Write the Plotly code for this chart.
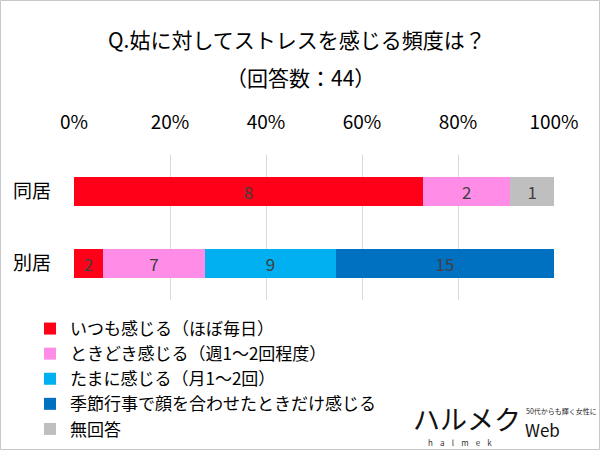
import plotly.graph_objects as go

categories = ["同居", "別居"]
series_names = [
    "いつも感じる（ほぼ毎日）",
    "ときどき感じる（週1～2回程度）",
    "たまに感じる（月1～2回）",
    "季節行事で顔を合わせたときだけ感じる",
    "無回答",
]
series_values = [
    [8, 2],
    [2, 7],
    [0, 9],
    [0, 15],
    [1, 0],
]
series_colors = ["#FF0018", "#FF8CE6", "#00B0F0", "#0070C0", "#BFBFBF"]
tick_values = [0, 20, 40, 60, 80, 100]
tick_labels = ["0%", "20%", "40%", "60%", "80%", "100%"]

FONT = "Noto Sans CJK JP"
W, H = 600, 450
L, R, T, B = 74, 46, 155, 150

fig = go.Figure()
for i, (name, vals, col) in enumerate(zip(series_names, series_values, series_colors)):
    fig.add_trace(go.Bar(
        y=categories, x=vals, name=name, orientation="h",
        marker=dict(color=col, line=dict(width=0)),
        text=[str(v) if v else "" for v in vals],
        textposition="inside", insidetextanchor="middle", textangle=0,
        textfont=dict(family=FONT, size=17, color="#404040"),
        legendgroup=f"g{i}",
    ))

pw = W - L - R
ph = H - T - B

def px(x):
    return (x - L) / pw

def py(y):
    return (H - B - y) / ph

fig.update_layout(
    width=W, height=H,
    margin=dict(l=L, r=R, t=T, b=B, pad=0, autoexpand=False),
    barmode="stack", barnorm="percent", bargap=0.6,
    paper_bgcolor="white", plot_bgcolor="white",
    font=dict(family=FONT, color="#000000"),
    showlegend=True,
    uniformtext=dict(minsize=17, mode="show"),
    legend=dict(
        orientation="v", xref="container", yref="container",
        x=30 / W, y=1 - 311 / H, xanchor="left", yanchor="top",
        font=dict(family=FONT, size=17, color="#000000"),
        traceorder="normal", tracegroupgap=2, itemwidth=30,
        bgcolor="rgba(0,0,0,0)", itemclick=False,
    ),
    xaxis=dict(
        range=[0, 100], side="top", tickmode="array",
        tickvals=tick_values, ticktext=tick_labels,
        showgrid=True, gridcolor="#D9D9D9", gridwidth=1,
        zeroline=False, showline=False, ticks="", ticklen=0, tickangle=0,
        tickfont=dict(family=FONT, size=19, color="#000000"),
        ticklabelstandoff=21, fixedrange=True, automargin=False,
    ),
    yaxis=dict(
        autorange="reversed", showgrid=False, zeroline=False, showline=False,
        ticks="", tickfont=dict(family=FONT, size=19, color="#000000"),
        ticklabelstandoff=22, fixedrange=True, automargin=False,
    ),
    annotations=[
        dict(text="Q.姑に対してストレスを感じる頻度は？", xref="paper", yref="paper",
             x=px(297), y=py(39), showarrow=False,
             font=dict(family=FONT, size=21, color="#000000"),
             xanchor="center", yanchor="middle"),
        dict(text="（回答数：44）", xref="paper", yref="paper",
             x=px(300), y=py(77), showarrow=False,
             font=dict(family=FONT, size=21, color="#000000"),
             xanchor="center", yanchor="middle"),
        dict(text="ハルメク", xref="paper", yref="paper",
             x=px(411), y=py(418), showarrow=False,
             font=dict(family=FONT, size=27, color="#111111"),
             xanchor="left", yanchor="middle"),
        dict(text="h    a    l    m    e    k", xref="paper", yref="paper",
             x=px(460), y=py(442), showarrow=False,
             font=dict(family=FONT, size=8, color="#333333"),
             xanchor="center", yanchor="middle"),
        dict(text="50代からも輝く女性に", xref="paper", yref="paper",
             x=px(524), y=py(411), showarrow=False,
             font=dict(family=FONT, size=7, color="#222222"),
             xanchor="left", yanchor="middle"),
        dict(text="Web", xref="paper", yref="paper",
             x=px(523), y=py(429), showarrow=False,
             font=dict(family=FONT, size=17, color="#111111"),
             xanchor="left", yanchor="middle"),
    ],
    shapes=[
        dict(type="rect", xref="paper", yref="paper",
             x0=px(0.5), x1=px(W - 0.5), y0=py(0.5), y1=py(H - 0.5),
             line=dict(color="#C8C8C8", width=1), fillcolor="rgba(0,0,0,0)",
             layer="above"),
    ],
)

fig.write_html("out.html")
